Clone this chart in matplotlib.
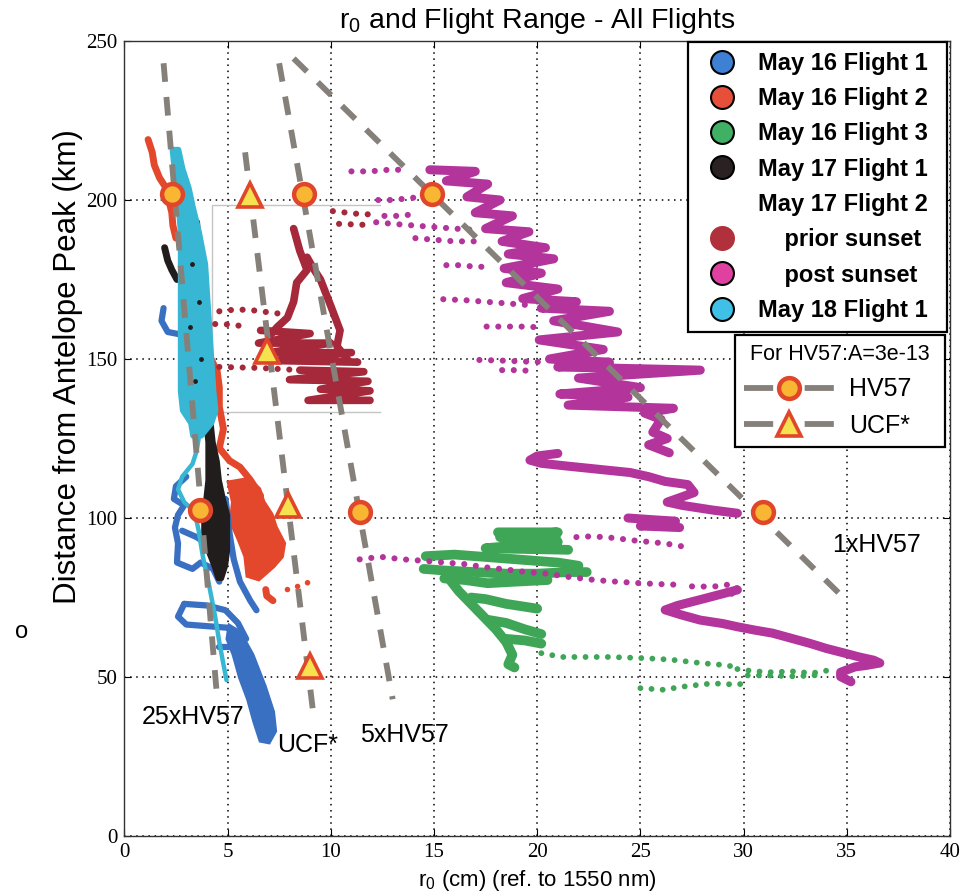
import matplotlib
matplotlib.use("Agg")
import matplotlib.pyplot as plt
from matplotlib.lines import Line2D

plt.rcParams['font.family'] = ['Liberation Sans', 'DejaVu Sans']
plt.rcParams['mathtext.fontset'] = 'custom'
plt.rcParams['mathtext.rm'] = 'Liberation Sans'

# ---------------- data (x = r0 in cm, y = distance in km) ----------------
x_ticks = [0, 5, 10, 15, 20, 25, 30, 35, 40]
y_ticks = [0, 50, 100, 150, 200, 250]

# reference lines (end points)
ref_25x_x = [1.9, 4.5];   ref_25x_y = [243.0, 43.0]
ref_ucf_x = [5.85, 9.2];  ref_ucf_y = [215.0, 36.0]
ref_5x_x = [7.5, 13.0];   ref_5x_y = [243.0, 43.0]
ref_1x_x = [8.2, 35.1];   ref_1x_y = [244.5, 73.3]
hv57_pts_x = [2.3, 3.67, 8.7, 11.4, 14.9, 30.95]
hv57_pts_y = [202, 102.5, 202, 102, 202, 101.8]
ucf_pts_x = [6.09, 6.9, 7.95, 9.0]
ucf_pts_y = [201.5, 152.5, 104, 53.5]

inset_box_x = [12.4, 4.25, 4.25, 12.4]
inset_box_y = [198.3, 198.3, 133.2, 133.2]

# May 16 Flight 1 (blue)
may16_f1_solid = [
    [(1.9, 166), (1.8, 162), (2.1, 158.5), (2.9, 157.5)],
    [(3.0, 113), (2.5, 110), (2.4, 106), (2.9, 104), (2.6, 101), (2.45, 97), (2.6, 92), (2.55, 86),
     (3.3, 84), (3.7, 86), (4.3, 84), (4.6, 80)],
    [(4.9, 106), (5.0, 101), (5.1, 95), (5.3, 87), (5.6, 80), (6.1, 74), (6.4, 71)],
    [(2.8, 96), (3.5, 94), (4.2, 91), (4.7, 88)],
    [(2.9, 73), (2.6, 69), (3.0, 66.5), (4.0, 66), (5.0, 65.5), (5.3, 63.5)],
    [(2.9, 73), (4.0, 72.5), (4.9, 71), (5.5, 67), (5.9, 62)],
    [(4.6, 59.5), (5.9, 59.5)],
]
may16_f1_tail_x = [5.1, 5.6, 6.2, 6.8, 7.2, 7.3, 7.0, 6.6, 6.3, 6.0, 5.6, 5.3, 5.0]
may16_f1_tail_y = [66, 64, 57, 47, 39, 33, 29.5, 30, 36, 43, 50, 57, 62]

# May 16 Flight 2 (red)
may16_f2_solid = [
    [(1.15, 219), (1.35, 215), (1.45, 211), (1.7, 207), (2.0, 204), (2.15, 200), (2.3, 196),
     (2.35, 192), (2.5, 188)],
    [(3.9, 153), (4.2, 150), (4.5, 146), (4.6, 141), (4.6, 135), (4.8, 128), (4.6, 122), (5.1, 118),
     (5.6, 116), (6.1, 112), (6.6, 107)],
    [(6.85, 77.5), (6.9, 75.5), (7.2, 74)],
]
may16_f2_dotted = [[(7.9, 77.5), (8.4, 78.5), (8.8, 79.5), (9.3, 80.5)]]
may16_f2_blob_x = [5.1, 5.3, 5.2, 5.6, 5.9, 6.0, 6.5, 7.2, 7.6, 7.7, 7.3, 7.1, 6.7, 6.5, 6.0]
may16_f2_blob_y = [111, 105, 99, 93, 88, 82, 81, 85, 88, 92, 97, 101, 105, 109, 112]

# May 16 Flight 3 (green)
may16_f3_solid = [
    [(18.1, 95.5), (21.0, 95.5), (18.2, 94), (20.9, 94), (19.0, 92.5), (21.0, 92.5), (17.5, 90.5), (21.5, 90)],
    [(14.6, 88), (16.0, 88.5), (17.0, 88), (18.0, 87.5), (19.0, 87), (20.0, 86.5), (21.0, 86), (22.0, 85)],
    [(14.5, 84), (15.5, 83.5), (17.0, 83), (18.5, 82.5), (20.0, 82.5), (21.5, 83), (22.4, 83)],
    [(15.5, 81), (16.5, 80.5), (17.6, 79.5), (19.0, 80), (20.5, 80.5)],
    [(15.6, 82), (16.2, 77), (16.8, 73), (17.4, 69), (18.0, 65), (18.5, 61), (18.8, 57), (18.6, 54), (18.9, 53)],
    [(16.8, 75), (17.5, 74.5), (18.5, 73), (19.5, 72), (20.0, 71.5)],
    [(17.6, 68), (18.5, 67), (19.4, 65), (20.2, 63.5)],
    [(18.5, 62), (19.4, 61.5), (20.2, 60.5)],
]
may16_f3_dotted = [
    [(20.2, 57.5), (21.2, 56.3), (22.1, 56.3), (23.5, 56.3), (24.9, 56), (25.9, 55.7), (26.7, 55.3),
     (27.9, 54.4), (29.0, 53.8), (29.7, 53.1)],
    [(29.7, 52.5), (30.5, 51.8), (31.4, 51.5), (32.3, 51.8), (33.3, 51.2), (34.2, 52.2)],
    [(30.2, 50.5), (31.2, 50.5), (32.5, 50.2), (33.6, 50.6)],
    [(25.0, 46.5), (26.1, 46.0), (27.1, 47.0), (27.9, 47.6), (28.5, 48.0), (29.7, 47.6), (30.0, 48.0)],
]

# May 17 Flight 1 (black)
may17_f1_solid = [
    [(1.95, 185), (2.1, 181), (2.3, 178), (2.55, 175)],
    [(3.5, 193), (3.55, 188), (3.65, 183)],
]
may17_f1_band_y = [136, 130, 124, 118, 112, 106, 101, 95, 90, 85, 81]
may17_f1_band_left = [3.8, 3.9, 4.0, 4.0, 4.0, 3.9, 3.8, 3.8, 4.0, 4.3, 4.5]
may17_f1_band_right = [4.1, 4.2, 4.3, 4.5, 4.6, 4.8, 5.0, 5.0, 5.0, 4.9, 4.7]
may17_f1_specks_x = [3.3, 3.6, 3.2, 3.7, 3.4]
may17_f1_specks_y = [180, 168, 160, 150, 143]

# May 17 Flight 2 - prior sunset (dark red)
prior_solid = [
    [(8.2, 191), (8.5, 184), (8.85, 178), (8.35, 174), (8.2, 168), (7.9, 163), (7.4, 160), (7.0, 157)],
    [(8.85, 182), (9.2, 178), (9.5, 175), (9.8, 170), (10.0, 166.7), (10.45, 159), (10.3, 154), (10.8, 150)],
    [(6.6, 159), (9.0, 158), (6.5, 155), (10.0, 155), (7.0, 152), (11.0, 152), (7.4, 149.5), (11.3, 149)],
    [(8.5, 146.5), (11.6, 146), (8.0, 143.5), (11.8, 143), (9.5, 140.5), (11.9, 140), (8.9, 137), (11.9, 137)],
]
prior_dotted = [
    [(4.6, 165), (5.3, 165.5), (6.0, 165.5), (6.6, 165), (7.2, 164.5), (7.9, 164)],
    [(4.4, 161), (4.8, 161), (5.5, 160.5), (5.9, 160.5)],
    [(4.6, 147.5), (6.5, 147.2), (8.5, 146.5)],
    [(10.1, 196.5), (10.8, 196), (11.5, 195.5), (12.2, 195.5)],
    [(10.4, 192.5), (11.2, 192.3), (12.0, 192.1)],
]

# May 17 Flight 2 - post sunset (magenta)
post_solid = [
    [(14.8, 209.5), (17.0, 209), (15.6, 206), (17.6, 205), (16.6, 201), (18.2, 200), (17.0, 196), (18.8, 195),
     (17.5, 191), (19.6, 190), (18.3, 187), (20.4, 185), (18.6, 183), (20.8, 181.5), (18.4, 178.5),
     (20.2, 177), (18.5, 174), (21.0, 172), (19.3, 169), (21.9, 168), (20.2, 166), (23.5, 165),
     (20.8, 162), (23.9, 158.5), (20.1, 156), (23.2, 153), (20.6, 150), (23.5, 149), (21.0, 147.5),
     (27.9, 146.5), (22.0, 144), (25.0, 141), (21.1, 139), (24.4, 138), (21.5, 135.5), (26.6, 134.5),
     (25.2, 133), (26.0, 131), (25.6, 127), (26.3, 125), (25.4, 123), (26.4, 120.5)],
    [(21.0, 120.3), (20.0, 119.5), (19.65, 118.2), (20.2, 117.2), (21.5, 116.3), (23.0, 115.3), (24.5, 114.3),
     (25.4, 113), (26.2, 111.5), (27.3, 110.5), (27.6, 108), (26.3, 105), (27.0, 104), (28.5, 102.5), (29.7, 101.5)],
    [(24.4, 100), (25.5, 99.5), (26.7, 99), (25.0, 97.5), (26.9, 97)],
    [(29.7, 77.4), (28.0, 74.5), (26.8, 72.5), (26.2, 71.1), (27.0, 69.5), (27.9, 67.9), (29.0, 66.8),
     (29.7, 65.8), (30.5, 64.8), (31.4, 63.8), (32.3, 62.2), (33.2, 60.6), (34.0, 59.0), (34.9, 57.5),
     (35.6, 56.3), (36.3, 55.3), (36.6, 54.4), (35.9, 53.6), (35.4, 53.2), (34.7, 51.5), (34.7, 50.1), (35.2, 48.5)],
]
post_dotted = [
    [(11.0, 209), (11.9, 209), (12.8, 209.5), (13.5, 209.5)],
    [(12.3, 200), (13.0, 200), (13.7, 200.5), (14.4, 201)],
    [(12.6, 195), (13.3, 195), (14.0, 195.5)],
    [(12.2, 193), (13.0, 192.5), (14.0, 192), (15.0, 191.5), (16.0, 191), (17.2, 190.5)],
    [(14.1, 188), (15.0, 187.5), (16.0, 187), (17.2, 187)],
    [(15.6, 179.5), (16.3, 179.5), (17.0, 179), (17.6, 179)],
    [(15.45, 168.8), (16.5, 168.5), (17.5, 168), (18.5, 167.5), (19.5, 167)],
    [(17.55, 160.2), (18.3, 160.2), (19.2, 160.2), (20.1, 160)],
    [(17.2, 149.7), (18.3, 149.5), (19.4, 149.2), (20.5, 149)],
    [(18.3, 146.5), (19.0, 146.5), (19.6, 146.3)],
    [(21.9, 94), (22.5, 94.2), (23.3, 94), (24.0, 93.5), (24.6, 93), (25.4, 92.5), (26.2, 92), (27.1, 91)],
    [(11.4, 87), (12.4, 87.8), (13.5, 87), (14.6, 86.5), (15.5, 86), (16.5, 85.5), (17.5, 84.5), (18.5, 83.8),
     (19.5, 83), (20.5, 82.5), (21.5, 81.5), (22.8, 80.5), (23.8, 80), (25.0, 79.5), (26.0, 79.2), (26.9, 79)],
    [(27.5, 78.5), (28.5, 78.4), (29.2, 79), (29.7, 78), (29.0, 76.5), (29.7, 76)],
]

# May 18 Flight 1 (cyan)
may18_band_y = [216, 210, 204, 198, 190, 180, 170, 160, 150, 140, 134, 130, 126]
may18_band_left = [2.3, 2.4, 2.5, 2.6, 2.7, 2.7, 2.7, 2.7, 2.7, 2.7, 2.8, 3.2, 3.3]
may18_band_right = [2.6, 2.8, 3.1, 3.3, 3.6, 3.9, 4.0, 4.1, 4.2, 4.3, 4.4, 4.2, 3.7]
may18_thin = [[(3.6, 125), (3.5, 121), (3.3, 117), (2.8, 113), (2.6, 109), (2.9, 105), (3.4, 102), (3.6, 96),
               (3.8, 88), (4.1, 79), (4.4, 69), (4.6, 61), (4.8, 54), (4.95, 49)]]

legend_labels = ['May 16 Flight 1', 'May 16 Flight 2', 'May 16 Flight 3', 'May 17 Flight 1',
                 'May 17 Flight 2', '    prior sunset', '    post sunset', 'May 18 Flight 1']

# ---------------- colours ----------------
C_BLUE, C_RED, C_GREEN, C_BLACK = '#3a70c2', '#e4482c', '#40a657', '#211d1d'
C_PRIOR, C_POST, C_CYAN = '#a5283b', '#b3349b', '#37b7d3'
L_BLUE, L_RED, L_GREEN, L_BLACK = '#3d80d4', '#e6503a', '#40b065', '#2a2222'
L_PRIOR, L_POST, L_CYAN = '#b0303c', '#e040a0', '#3fc0e6'
C_REF = '#86807a'
C_MK_EDGE, C_MK_FACE, C_TRI_FACE = '#e0462a', '#f8b632', '#f6e24e'

fig = plt.figure(figsize=(9.64, 8.93), dpi=100)
ax = fig.add_axes([0.1290, 0.0638, 0.8565, 0.8903])
ax.set_xlim(0, 40)
ax.set_ylim(0, 250)


def solid(tracks, color, lw=5.0, z=3):
    for tr in tracks:
        xs, ys = zip(*tr)
        ax.plot(xs, ys, color=color, lw=lw, solid_capstyle='round', solid_joinstyle='round', zorder=z)


def dotted(tracks, color, lw=4.0, z=3):
    for tr in tracks:
        xs, ys = zip(*tr)
        ax.plot(xs, ys, color=color, lw=lw, linestyle=(0, (0.01, 1.9)), dash_capstyle='round', zorder=z)


# grid
ax.grid(True, color='black', linestyle=(0, (1, 3)), linewidth=1.1, zorder=1)
ax.set_axisbelow(True)

ax.plot(inset_box_x, inset_box_y, color='#c4c4c4', lw=1.0, zorder=2)

# data
solid(may16_f2_solid, C_RED, 5)
dotted(may16_f2_dotted, C_RED, 4)
ax.fill(may16_f2_blob_x, may16_f2_blob_y, color=C_RED, lw=4, zorder=3)

solid(may16_f1_solid, C_BLUE, 4.5, z=3.2)
ax.fill(may16_f1_tail_x, may16_f1_tail_y, color=C_BLUE, lw=3, zorder=3.2)

ax.fill_betweenx(may17_f1_band_y, may17_f1_band_left, may17_f1_band_right, color=C_BLACK, lw=3, zorder=3.4)
solid(may17_f1_solid, C_BLACK, 5, z=3.4)

solid(may16_f3_solid, C_GREEN, 7)
dotted(may16_f3_dotted, C_GREEN, 4.2)

solid(prior_solid, C_PRIOR, 5.5)
dotted(prior_dotted, C_PRIOR, 4.4)

solid(post_solid, C_POST, 6.5)
dotted(post_dotted, C_POST, 4.4)

ax.fill_betweenx(may18_band_y, may18_band_left, may18_band_right, color=C_CYAN, lw=4, zorder=3.6)
solid(may18_thin, C_CYAN, 3.2, z=3.6)
ax.scatter(may17_f1_specks_x, may17_f1_specks_y, s=6, color=C_BLACK, zorder=3.7)

# reference lines
for rx, ry in [(ref_25x_x, ref_25x_y), (ref_ucf_x, ref_ucf_y), (ref_5x_x, ref_5x_y), (ref_1x_x, ref_1x_y)]:
    ax.plot(rx, ry, color=C_REF, lw=4.2, linestyle=(0, (3.2, 2.6)), dash_capstyle='butt', zorder=5)

ax.plot(hv57_pts_x, hv57_pts_y, ls='none', marker='o', ms=15, mfc=C_MK_FACE, mec=C_MK_EDGE, mew=3.2, zorder=6)
ax.plot(ucf_pts_x, ucf_pts_y, ls='none', marker='^', ms=17, mfc=C_TRI_FACE, mec=C_MK_EDGE, mew=2.6, zorder=6)

# annotations
ax.text(0.84, 37.5, '25xHV57', fontsize=18, va='center', ha='left', zorder=7)
ax.text(7.39, 28.6, 'UCF*', fontsize=18, va='center', ha='left', zorder=7)
ax.text(11.42, 31.8, '5xHV57', fontsize=18, va='center', ha='left', zorder=7)
ax.text(34.3, 91.5, '1xHV57', fontsize=18, va='center', ha='left', zorder=7)

# axes styling
ax.set_xticks(x_ticks)
ax.set_yticks(y_ticks)
ax.set_xticklabels([str(v) for v in x_ticks], fontfamily='Liberation Serif', fontsize=15)
ax.set_yticklabels([str(v) for v in y_ticks], fontfamily='Liberation Serif', fontsize=15)
ax.tick_params(direction='in', length=5, width=0.8, top=True, right=True, pad=5)
for s in ax.spines.values():
    s.set_linewidth(1.0)
    s.set_color('#333333')

ax.set_title(r'$\mathregular{r_0}$ and Flight Range - All Flights', fontsize=20.5, pad=9)
ax.set_xlabel(r'$\mathregular{r_0}$ (cm) (ref. to 1550 nm)', fontsize=16, labelpad=4)
fig.text(68 / 964, 1 - 367 / 893, 'Distance from Antelope Peak (km)', rotation=90, fontsize=22.5,
         ha='center', va='center')
fig.text(22 / 964, 1 - 632 / 893, 'o', fontsize=17, ha='center', va='center')

# legend 1
marker_cols = [(L_BLUE, 'black'), (L_RED, 'black'), (L_GREEN, 'black'), (L_BLACK, 'black'),
               None, (L_PRIOR, L_PRIOR), (L_POST, 'black'), (L_CYAN, 'black')]
handles = []
for mc in marker_cols:
    if mc is None:
        handles.append(Line2D([], [], ls='none', marker='none'))
    else:
        handles.append(Line2D([], [], ls='none', marker='o', ms=16.5, mfc=mc[0], mec=mc[1], mew=1.5))
leg1 = ax.legend(handles, legend_labels, loc='upper left',
                 bbox_to_anchor=(688 / 964, 1 - 42 / 893, (947 - 688) / 964, 0), mode='expand',
                 bbox_transform=fig.transFigure, prop={'family': 'Liberation Sans', 'weight': 'bold', 'size': 17},
                 frameon=True, fancybox=False, framealpha=1, edgecolor='black', borderpad=0.42,
                 labelspacing=0.52, handlelength=2.0, handletextpad=0.55, borderaxespad=0)
leg1.get_frame().set_linewidth(1.6)
ax.add_artist(leg1)

h2 = [Line2D([], [], color=C_REF, lw=4.2, linestyle=(0, (5.0, 5.4)), marker='o', ms=15,
             mfc=C_MK_FACE, mec=C_MK_EDGE, mew=3.2),
      Line2D([], [], color=C_REF, lw=4.2, linestyle=(0, (5.0, 5.4)), marker='^', ms=17,
             mfc=C_TRI_FACE, mec=C_MK_EDGE, mew=2.6)]
leg2 = ax.legend(h2, ['HV57', 'UCF*'], loc='upper left',
                 bbox_to_anchor=(735 / 964, 1 - 335 / 893, (945 - 735) / 964, 0), mode='expand',
                 bbox_transform=fig.transFigure, title='For HV57:A=3e-13', title_fontsize=15.5,
                 prop={'family': 'Liberation Sans', 'size': 18}, frameon=True, fancybox=False, framealpha=1,
                 edgecolor='black', borderpad=0.35, labelspacing=0.5, handlelength=3.6, handletextpad=0.6,
                 borderaxespad=0, numpoints=1)
leg2.get_frame().set_linewidth(1.6)
leg2.set_zorder(10)
leg1.set_zorder(10)

fig.savefig('out.png', dpi=100)
